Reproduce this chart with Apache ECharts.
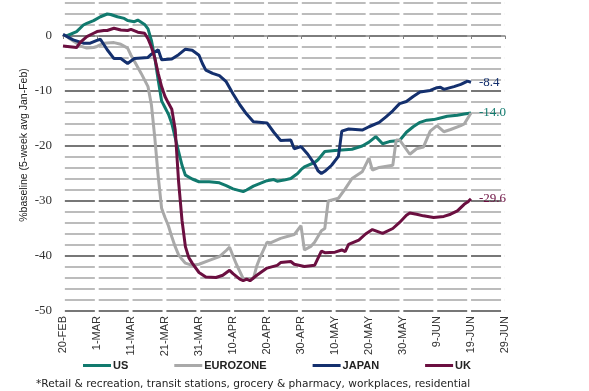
<!DOCTYPE html>
<html><head><meta charset="utf-8">
<script src="https://cdn.jsdelivr.net/npm/echarts@6/dist/echarts.min.js"></script>
<style>html,body{margin:0;padding:0;background:#fff}#c{width:589px;height:391px}</style>
</head><body><div id="c"></div>
<script>
// x = days since 20-FEB
const xTickLabels = ['20-FEB','1-MAR','11-MAR','21-MAR','31-MAR','10-APR','20-APR','30-APR','10-MAY','20-MAY','30-MAY','9-JUN','19-JUN','29-JUN'];
const seriesNames = ['US','EUROZONE','JAPAN','UK'];
const usData = [[1,0],[4,0.8],[6,2.0],[7,2.3],[9,2.8],[11,3.5],[13,4.0],[14,3.9],[16,3.5],[18,3.2],[19,2.8],[21,2.6],[22,2.9],[24,2.1],[25,1.3],[26,-0.8],[27,-4.0],[28,-8.0],[29,-11.8],[30,-13.0],[31,-14.2],[32,-15.9],[33,-18.5],[34,-21.0],[35,-23.5],[36,-25.3],[38,-26.0],[40,-26.5],[43,-26.5],[46,-26.7],[48,-27.2],[50,-27.8],[53,-28.3],[54,-28.0],[56,-27.3],[58,-26.8],[60,-26.3],[62,-26.1],[63,-26.4],[65,-26.2],[67,-25.9],[69,-25.0],[70,-24.3],[71,-23.8],[74,-23.0],[75,-22.5],[77,-21.0],[80,-20.8],[85,-20.6],[88,-20.0],[90,-19.3],[92,-18.3],[94,-19.6],[96,-19.2],[99,-19.0],[101,-17.5],[103,-16.5],[105,-15.7],[107,-15.3],[109,-15.2],[111,-14.9],[113,-14.6],[116,-14.4],[118,-14.2],[120,-14.0]];
const ezData = [[1,0],[2,-0.5],[4,-1.3],[5,-1.8],[7,-2.2],[9,-2.1],[10,-1.9],[12,-1.3],[15,-1.2],[17,-1.5],[19,-2.2],[20,-3.5],[21,-4.6],[23,-6.8],[25,-9.2],[26,-12.5],[27,-18.5],[28,-25.5],[29,-31.3],[30,-33.0],[31,-34.5],[32,-36.5],[33,-38.3],[34,-39.8],[35,-40.6],[36,-41.3],[38,-41.7],[40,-41.5],[43,-40.8],[46,-40.1],[48,-39.0],[49,-38.4],[50,-40.0],[51,-41.5],[53,-44.1],[56,-44.1],[57,-41.8],[58,-40.2],[60,-37.5],[61,-37.6],[64,-36.8],[68,-36.1],[70,-34.5],[71,-38.9],[73,-38.2],[74,-37.5],[76,-35.4],[77,-35.0],[78,-30.0],[81,-29.5],[83,-27.8],[85,-25.9],[88,-24.7],[90,-22.2],[91,-24.4],[93,-23.9],[97,-23.5],[98,-18.9],[99,-18.9],[102,-21.5],[104,-20.5],[106,-20.2],[108,-17.3],[110,-16.3],[112,-17.4],[114,-17.0],[117,-16.3],[118,-16.0],[119,-15.0],[120,-14.0]];
const jpData = [[0,0.3],[3,-0.7],[6,-1.3],[8,-1.3],[10,-0.8],[11,-0.6],[13,-2.5],[15,-4.1],[17,-4.1],[19,-5.0],[21,-4.1],[25,-3.9],[26,-3.3],[28,-2.5],[29,-4.3],[32,-4.2],[34,-3.4],[36,-2.4],[38,-2.6],[40,-3.5],[41,-5.0],[42,-6.2],[44,-6.8],[46,-7.2],[48,-8.3],[50,-10.5],[52,-12.5],[54,-14.2],[56,-15.6],[60,-15.8],[62,-17.5],[64,-19.0],[67,-18.9],[68,-20.5],[70,-20.1],[72,-21.5],[74,-23.3],[75,-24.5],[76,-25.0],[77,-24.6],[79,-23.5],[81,-21.9],[82,-17.3],[84,-16.9],[88,-17.1],[90,-16.5],[93,-15.7],[95,-14.7],[97,-13.6],[99,-12.3],[101,-11.9],[103,-11.0],[105,-10.2],[108,-9.9],[110,-9.4],[111,-9.3],[112,-9.7],[115,-9.2],[117,-8.8],[119,-8.2],[120,-8.4]];
const ukData = [[0,-1.8],[4,-2.1],[5,-1.2],[7,-0.1],[9,0.5],[10,0.8],[12,1.0],[13,1.0],[15,1.4],[17,1.1],[19,1.0],[20,1.2],[22,0.7],[24,0.5],[25,-0.5],[26,-2.0],[27,-4.0],[28,-6.8],[29,-9.2],[30,-11.0],[31,-12.2],[32,-13.3],[33,-17.0],[34,-26.5],[35,-33.5],[36,-38.3],[37,-40.3],[38,-41.3],[40,-43.0],[42,-43.8],[45,-43.9],[47,-43.5],[49,-42.6],[50,-43.2],[52,-44.2],[53,-44.5],[54,-44.2],[55,-44.5],[57,-43.5],[60,-42.2],[63,-41.7],[64,-41.2],[67,-41.0],[68,-41.5],[71,-41.9],[74,-41.7],[76,-39.1],[77,-39.4],[80,-39.3],[82,-38.9],[83,-39.2],[84,-37.9],[87,-37.1],[89,-36.0],[91,-35.2],[94,-35.9],[97,-35.0],[99,-33.9],[101,-32.6],[102,-32.2],[104,-32.4],[106,-32.7],[109,-33.0],[112,-32.8],[114,-32.4],[116,-31.8],[118,-30.6],[119,-30.2],[120,-29.6]];
const colors = ['#117a6e','#a9a9a9','#14306e','#6b0f40'];
const footnote = '*Retail & recreation, transit stations, grocery & pharmacy, workplaces, residential';
const yName = '%baseline (5-week avg Jan-Feb)';

const chart = echarts.init(document.getElementById('c'), null, {renderer:'canvas'});
const dataSets = [usData, ezData, jpData, ukData];
const gridColors = ['#777777','#bcbcbc','#bcbcbc','#bcbcbc','#bcbcbc'];
chart.setOption({
  animation:false,
  grid:{left:63,right:84,top:3,bottom:80,containLabel:false},
  xAxis:[{
    type:'value',min:0,max:130,interval:10,position:'bottom',
    axisLine:{show:false,onZero:false},axisTick:{show:false},splitLine:{show:false},
    axisLabel:{rotate:90,margin:5,color:'#333',fontFamily:'Liberation Sans Narrow, Liberation Sans, sans-serif',fontSize:11,
      formatter:v=>xTickLabels[Math.round(v/10)]}
  },{
    type:'value',min:0,max:130,interval:10,position:'top',
    axisLine:{show:true,onZero:true,lineStyle:{color:'#808080',width:1.5}},
    axisTick:{show:true,inside:true,length:3,lineStyle:{color:'#808080',width:1}},
    axisLabel:{show:false},splitLine:{show:false}
  }],
  yAxis:{
    type:'value',min:-50,max:6,interval:2,
    axisLine:{show:false},axisTick:{show:false},
    axisLabel:{margin:11,color:'#333',fontFamily:'Liberation Serif, serif',fontSize:13,
      formatter:v=>(v%10===0?String(v):'')},
    splitLine:{show:true,lineStyle:{color:gridColors,width:2,type:[30,3.85],dashOffset:32}}
  },
  legend:{
    data:seriesNames,left:78,top:355,icon:'rect',itemWidth:28,itemHeight:3,itemGap:46,
    textStyle:{fontFamily:'Liberation Sans, sans-serif',fontWeight:'bold',fontSize:11,color:'#222',padding:[0,0,0,-3]}
  },
  graphic:[
    {type:'text',left:36,top:379,style:{text:footnote,fontFamily:'DejaVu Sans, sans-serif',fontSize:10.6,fill:'#222'}},
    {type:'text',x:24,y:145,rotation:Math.PI/2,style:{text:yName,fontFamily:'Liberation Sans Narrow, Liberation Sans, sans-serif',fontSize:10.5,fill:'#222',align:'center',verticalAlign:'middle'}}
  ],
  series:seriesNames.map((n,i)=>({
    name:n,type:'line',xAxisIndex:0,data:dataSets[i],symbol:'none',
    lineStyle:{color:colors[i],width:3},itemStyle:{color:colors[i]},
    endLabel:{show:i!==1,distance:8,color:colors[i],fontFamily:'Liberation Serif, serif',fontSize:13,
      formatter:p=>p.value[1].toFixed(1)}
  }))
});
</script></body></html>
